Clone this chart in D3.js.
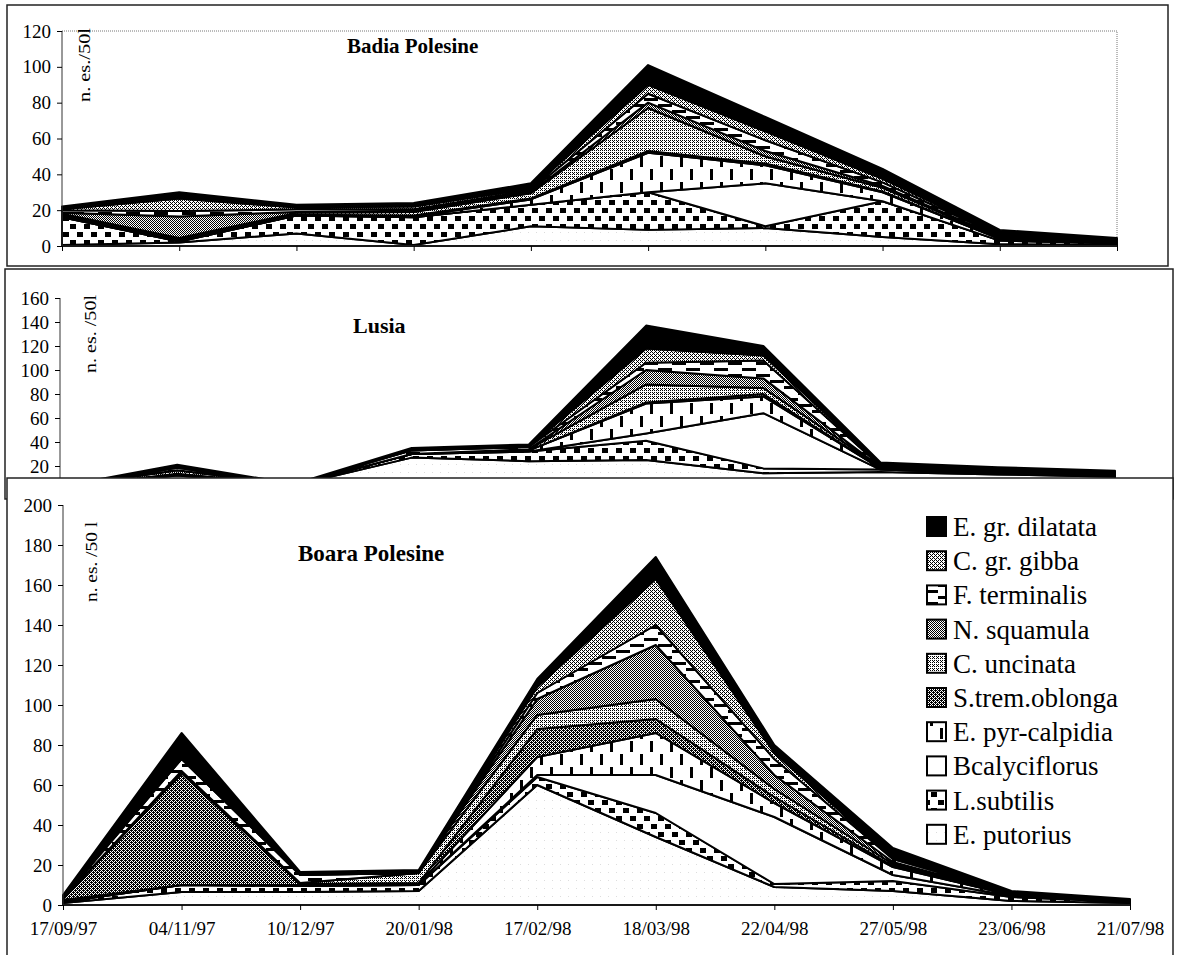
<!DOCTYPE html>
<html>
<head>
<meta charset="utf-8">
<script src="https://cdn.jsdelivr.net/npm/d3@7"></script>
<style>
  html, body { margin: 0; padding: 0; background: #fff; }
  svg { display: block; }
  svg text { font-family: "Liberation Serif", "Times New Roman", Tinos, "DejaVu Serif", serif !important; }
</style>
</head>
<body>
<svg id="chart" width="1177" height="955"></svg>
<script>
// Sampling dates (category axis)
const dates = ["17/09/97", "04/11/97", "10/12/97", "20/01/98", "17/02/98",
               "18/03/98", "22/04/98", "27/05/98", "23/06/98", "21/07/98"];

// Taxa in stacking order, bottom to top
const species = ["E. putorius", "L.subtilis", "Bcalyciflorus", "E. pyr-calpidia",
                 "S.trem.oblonga", "C. uncinata", "N. squamula", "F. terminalis",
                 "C. gr. gibba", "E. gr. dilatata"];

// n. es./50 l, one row per taxon (same order as species), one column per date
const badia = [
  [0.5, 2, 7, 0.5, 11, 9, 10, 5, 1, 0.5],
  [15.5, 0.5, 10, 15.5, 12, 21, 1, 20, 2, 1],
  [0, 0, 0, 0, 0, 0, 24, 0, 0, 0],
  [0.5, 0.5, 0.5, 0.5, 3, 22, 10, 5, 1, 0.5],
  [0.5, 0.5, 0, 0.5, 0.5, 1, 1, 0.5, 0, 0],
  [1, 1, 1, 2, 3, 24, 4, 2, 0.5, 0],
  [0.5, 12, 0.5, 0.5, 0.5, 3, 3, 1, 0.5, 0.5],
  [1.5, 3, 1.5, 1, 1, 5, 6, 2, 1, 0.5],
  [0.5, 7, 1, 1.5, 1, 5, 5, 2, 0.5, 0.5],
  [1.5, 3.5, 1.5, 2, 3, 11, 8, 5.5, 2.5, 1]
];

const lusia = [
  [2, 12, 4, 27, 24, 25, 14, 15, 13, 11],
  [0.5, 1, 0.5, 3, 8, 16, 4, 2, 1, 1],
  [0, 0, 0, 0, 0, 6, 46, 0, 0, 0],
  [0, 0.5, 0, 0, 1, 25, 14, 1, 1, 1],
  [0, 0, 0, 0, 0, 1, 2, 0, 0, 0],
  [0, 3, 0, 0, 1, 15, 5, 1, 0, 0],
  [0, 0, 0, 0, 0, 12, 8, 0, 0, 0],
  [0, 2, 0, 3, 2, 6, 15, 1, 1, 1],
  [0, 0.5, 0, 0, 0, 12, 4, 1, 1, 1],
  [0.5, 2, 0.5, 2, 2, 19, 8, 2, 2, 1]
];

const boara = [
  [1, 6.5, 6.5, 7, 60, 34, 9, 7, 2, 1],
  [0.5, 3.5, 3, 3, 4, 12, 1.5, 5, 2, 0.5],
  [0, 0, 0, 0, 1, 19, 33.5, 3, 0.5, 0],
  [1, 0, 0.5, 0.5, 9, 21, 7, 4, 0.5, 0.5],
  [0.5, 56, 0.5, 0.5, 14, 7, 3, 0.5, 0, 0],
  [0, 0, 0.5, 5, 7, 10, 4, 1, 0.5, 0],
  [0, 1, 0, 0, 8, 27, 7, 1, 0, 0],
  [0.5, 6, 4, 0, 3, 10, 8, 1.5, 0.5, 0],
  [0, 1, 0, 0, 3, 23, 3, 0.5, 0, 0],
  [1.5, 12, 1.5, 1.5, 4, 11, 4, 5, 1, 1]
];

// Y tick values per panel
const badiaTicks = [0, 20, 40, 60, 80, 100, 120];
const lusiaTicks = [20, 40, 60, 80, 100, 120, 140, 160];
const boaraTicks = [0, 20, 40, 60, 80, 100, 120, 140, 160, 180, 200];

const svg = d3.select("#chart");
const defs = svg.append("defs");

// ---- fill patterns (black & white print style) ----
const bayer = [[0, 8, 2, 10], [12, 4, 14, 6], [3, 11, 1, 9], [15, 7, 13, 5]];
function dither(id, level) {
  const p = defs.append("pattern").attr("id", id)
    .attr("patternUnits", "userSpaceOnUse").attr("width", 4).attr("height", 4);
  p.append("rect").attr("width", 4).attr("height", 4).attr("fill", "#fff");
  bayer.forEach((row, j) => row.forEach((b, i) => {
    if (b < level) p.append("rect").attr("x", i).attr("y", j)
      .attr("width", 1).attr("height", 1).attr("fill", "#000");
  }));
}
function tiled(id, w, h, rects, bg) {
  const p = defs.append("pattern").attr("id", id)
    .attr("patternUnits", "userSpaceOnUse").attr("width", w).attr("height", h);
  p.append("rect").attr("width", w).attr("height", h).attr("fill", bg || "#fff");
  rects.forEach(r => p.append("rect").attr("x", r[0]).attr("y", r[1])
    .attr("width", r[2]).attr("height", r[3]).attr("fill", r[4] || "#000"));
}
tiled("p-putorius", 8, 8, [[0, 0, 1, 1, "#ddd"]]);
tiled("p-subtilis", 14, 16, [[0, 0, 6, 5], [7, 8, 6, 5]]);
tiled("p-calyc", 4, 4, []);
tiled("p-pyr", 20, 26, [[0, 0, 3, 11], [10, 13, 3, 11]]);
dither("p-trem", 10);
dither("p-unc", 5);
dither("p-squ", 8);
tiled("p-term", 28, 12, [[0, 2, 14, 3], [14, 8, 14, 3]]);
dither("p-gibba", 6);

const fills = ["url(#p-putorius)", "url(#p-subtilis)", "url(#p-calyc)", "url(#p-pyr)",
               "url(#p-trem)", "url(#p-unc)", "url(#p-squ)", "url(#p-term)",
               "url(#p-gibba)", "#000"];

function drawPanel(cfg) {
  const g = svg.append("g");
  // panel frame
  g.append("rect")
    .attr("x", cfg.frame[0]).attr("y", cfg.frame[1])
    .attr("width", cfg.frame[2]).attr("height", cfg.frame[3])
    .attr("fill", "#fff").attr("stroke", "#222").attr("stroke-width", 1.5);

  const x = d3.scalePoint(dates, [cfg.x0, cfg.x1]);
  const y = d3.scaleLinear([0, cfg.max], [cfg.y0, cfg.y1]);

  if (cfg.plotBorder) {
    g.append("path")
      .attr("d", `M${cfg.x0},${cfg.y1}H${cfg.x1}V${cfg.y0}`)
      .attr("fill", "none").attr("stroke", "#777")
      .attr("stroke-width", 1).attr("stroke-dasharray", "1,1");
  }

  const table = dates.map((d, i) => {
    const r = { date: d };
    species.forEach((s, k) => { r[s] = cfg.data[k][i]; });
    return r;
  });
  const series = d3.stack().keys(species)(table);
  const area = d3.area()
    .x(d => x(d.data.date))
    .y0(d => y(d[0]))
    .y1(d => y(d[1]));

  g.append("g").selectAll("path").data(series).join("path")
    .attr("d", area)
    .attr("fill", (d, i) => fills[i])
    .attr("stroke", "#000").attr("stroke-width", 2)
    .attr("stroke-linejoin", "round");

  // axes
  const yAxis = d3.axisLeft(y).tickValues(cfg.ticks).tickSize(5).tickPadding(6);
  const ya = g.append("g").attr("transform", `translate(${cfg.x0},0)`).call(yAxis);
  ya.attr("font-family", null);
  ya.select(".domain").attr("stroke", "#333").attr("d", `M0,${cfg.y0}V${cfg.y1}`);
  ya.selectAll("text").attr("font-size", 19).attr("fill", "#000");

  const xAxis = d3.axisBottom(x).tickSize(5).tickPadding(12)
    .tickFormat(cfg.xLabels ? d => d : () => "");
  const xa = g.append("g").attr("transform", `translate(0,${cfg.y0})`).call(xAxis);
  xa.attr("font-family", null);
  xa.select(".domain").attr("stroke", "#333").attr("d", `M${cfg.x0},0H${cfg.x1}`);
  xa.selectAll("text").attr("font-size", 19).attr("fill", "#000");

  // site name
  g.append("text").attr("x", cfg.title[1]).attr("y", cfg.title[2])
    .attr("font-weight", "bold").attr("font-size", cfg.title[3])
    .text(cfg.title[0]);

  // unit label
  g.append("text")
    .attr("transform", `translate(${cfg.unit[1]},${cfg.unit[2]}) rotate(-90)`)
    .attr("font-size", 16).attr("textLength", cfg.unit[3])
    .attr("lengthAdjust", "spacingAndGlyphs")
    .text(cfg.unit[0]);
  return g;
}

drawPanel({
  frame: [7, 5, 1161, 261], x0: 62, x1: 1117, y0: 246, y1: 31, max: 120,
  ticks: badiaTicks, data: badia, plotBorder: true, xLabels: false,
  title: ["Badia Polesine", 347, 53, 21], unit: ["n. es./50l", 90, 102, 74]
});
drawPanel({
  frame: [5, 269, 1168, 230], x0: 60, x1: 1115, y0: 490, y1: 298, max: 160,
  ticks: lusiaTicks, data: lusia, plotBorder: false, xLabels: false,
  title: ["Lusia", 353, 333, 22], unit: ["n. es. /50l", 96, 373, 78]
});
const p3 = drawPanel({
  frame: [7, 478, 1166, 500], x0: 63, x1: 1130, y0: 905, y1: 505, max: 200,
  ticks: boaraTicks, data: boara, plotBorder: false, xLabels: true,
  title: ["Boara Polesine", 298, 561, 23], unit: ["n. es. /50 l", 97, 602, 80]
});

// legend, listed top of the stack first
const legend = p3.append("g");
const order = species.map((s, i) => i).reverse();
order.forEach((k, j) => {
  const cy = 527 + j * 34.2;
  legend.append("rect").attr("x", 927).attr("y", cy - 10)
    .attr("width", 19).attr("height", 19)
    .attr("fill", fills[k]).attr("stroke", "#000").attr("stroke-width", 2);
  legend.append("text").attr("x", 953).attr("y", cy + 9)
    .attr("font-size", 27).text(species[k]);
});
</script>
</body>
</html>
